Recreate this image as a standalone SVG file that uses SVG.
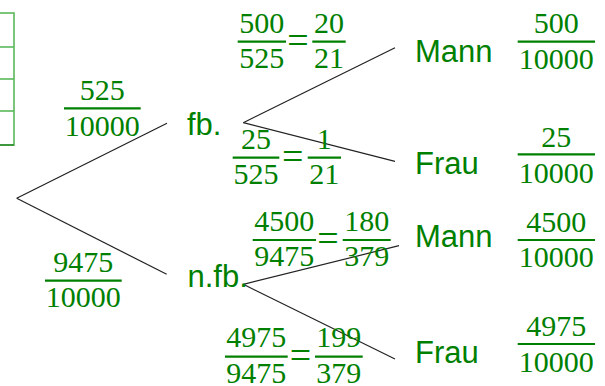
<svg xmlns="http://www.w3.org/2000/svg" width="605" height="386" viewBox="0 0 605 386">
<style>
.num{font-family:"Liberation Serif","Times New Roman",serif;font-size:30px;fill:#008000;text-anchor:middle}
.eq{font-family:"Liberation Serif","Times New Roman",serif;font-size:38px;fill:#008000;text-anchor:middle}
.lbl{font-family:"Liberation Sans",Arial,sans-serif;font-size:31px;fill:#008000}
.bar{stroke:#008000;stroke-width:2.2}
.edge{stroke:#222;stroke-width:1.2;fill:none}
.tbl{stroke:#5cb85c;stroke-width:1.6;fill:none}
</style>
<rect width="605" height="386" fill="#fff"/>
<g id="table">
<rect class="tbl" x="-2" y="13" width="16" height="132"/>
<line class="tbl" x1="0" y1="47" x2="14" y2="47"/>
<line class="tbl" x1="0" y1="79" x2="14" y2="79"/>
<line class="tbl" x1="0" y1="111" x2="14" y2="111"/>
<line x1="0" y1="145" x2="14" y2="145" stroke="#2e8b2e" stroke-width="1.6"/>
</g>
<g id="connectors">
<line class="edge" x1="16.7" y1="198.3" x2="167" y2="123.3"/>
<line class="edge" x1="16.7" y1="198.3" x2="166.7" y2="274.3"/>
<line class="edge" x1="243.3" y1="122.7" x2="395" y2="47.7"/>
<line class="edge" x1="243.3" y1="122.7" x2="395" y2="161.3"/>
<line class="edge" x1="243.3" y1="284.3" x2="399" y2="245.7"/>
<line class="edge" x1="243.3" y1="284.3" x2="395" y2="359"/>
</g>
<g id="p-fb">
<text class="num" x="102.3" y="100">525</text>
<line class="bar" x1="64" y1="108.3" x2="140.7" y2="108.3"/>
<text class="num" x="102.3" y="136">10000</text>
</g>
<g id="p-nfb">
<text class="num" x="83.3" y="271.7">9475</text>
<line class="bar" x1="45" y1="280.7" x2="121.7" y2="280.7"/>
<text class="num" x="83.3" y="307.3">10000</text>
</g>
<g id="fb">
<text class="lbl" x="187" y="135">fb.</text>
</g>
<g id="nfb">
<text class="lbl" x="187.5" y="287.3">n.fb.</text>
</g>
<g id="p-fb-mann">
<text class="num" x="261.8" y="33.3">500</text>
<line class="bar" x1="237.7" y1="41.7" x2="286" y2="41.7"/>
<text class="num" x="261.8" y="68.3">525</text>
<text class="eq" x="298" y="52.5">=</text>
<text class="num" x="329" y="33.3">20</text>
<line class="bar" x1="312.3" y1="41.7" x2="345.7" y2="41.7"/>
<text class="num" x="329" y="68.3">21</text>
</g>
<g id="p-fb-frau">
<text class="num" x="256" y="148.7">25</text>
<line class="bar" x1="232.7" y1="157.7" x2="279.3" y2="157.7"/>
<text class="num" x="256" y="184">525</text>
<text class="eq" x="292.8" y="168.5">=</text>
<text class="num" x="324.3" y="148.7">1</text>
<line class="bar" x1="307.7" y1="157.7" x2="341" y2="157.7"/>
<text class="num" x="324.3" y="184">21</text>
</g>
<g id="p-nfb-mann">
<text class="num" x="284.3" y="230.7">4500</text>
<line class="bar" x1="252.7" y1="240" x2="316" y2="240"/>
<text class="num" x="284.3" y="266">9475</text>
<text class="eq" x="328" y="250.8">=</text>
<text class="num" x="366.7" y="230.7">180</text>
<line class="bar" x1="342.7" y1="240" x2="390.7" y2="240"/>
<text class="num" x="366.7" y="266">379</text>
</g>
<g id="p-nfb-frau">
<text class="num" x="256.3" y="346.7">4975</text>
<line class="bar" x1="225" y1="356.7" x2="287.7" y2="356.7"/>
<text class="num" x="256.3" y="382.5">9475</text>
<text class="eq" x="300.5" y="367.5">=</text>
<text class="num" x="338.8" y="346.7">199</text>
<line class="bar" x1="315" y1="356.7" x2="362.7" y2="356.7"/>
<text class="num" x="338.8" y="382.5">379</text>
</g>
<g id="mann1">
<text class="lbl" x="415" y="61.7">Mann</text>
<text class="num" x="556.3" y="33.3">500</text>
<line class="bar" x1="517.7" y1="41.7" x2="595" y2="41.7"/>
<text class="num" x="556.3" y="69">10000</text>
</g>
<g id="frau1">
<text class="lbl" x="415" y="174">Frau</text>
<text class="num" x="556.3" y="146.7">25</text>
<line class="bar" x1="517.7" y1="154.3" x2="595" y2="154.3"/>
<text class="num" x="556.3" y="182.7">10000</text>
</g>
<g id="mann2">
<text class="lbl" x="415" y="247.3">Mann</text>
<text class="num" x="556.3" y="231.7">4500</text>
<line class="bar" x1="517.7" y1="240" x2="595" y2="240"/>
<text class="num" x="556.3" y="267.3">10000</text>
</g>
<g id="frau2">
<text class="lbl" x="415" y="363.3">Frau</text>
<text class="num" x="556.3" y="335.7">4975</text>
<line class="bar" x1="517.7" y1="344" x2="595" y2="344"/>
<text class="num" x="556.3" y="371.7">10000</text>
</g>
</svg>
